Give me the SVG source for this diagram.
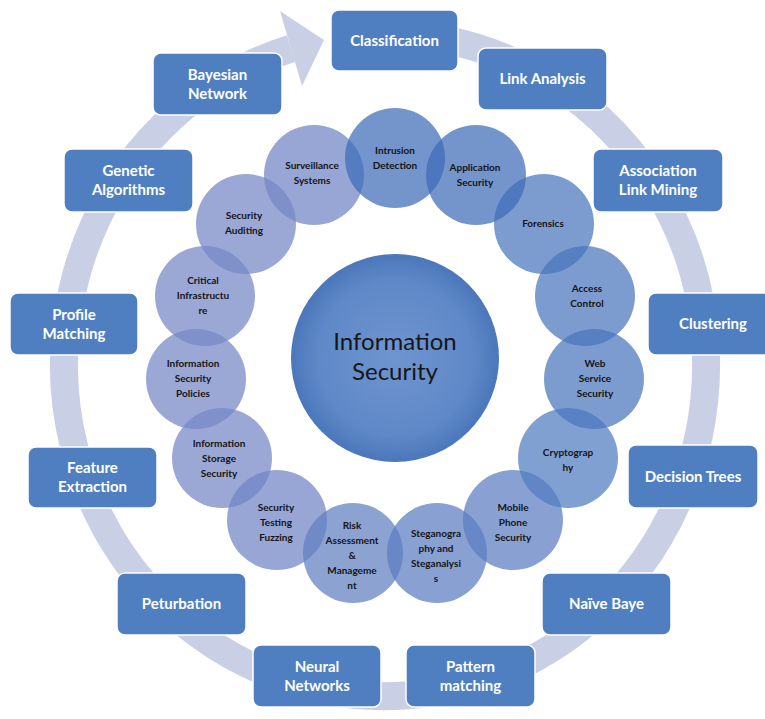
<svg xmlns="http://www.w3.org/2000/svg" width="765" height="719" viewBox="0 0 765 719">
  <defs>
    <radialGradient id="coreFill" cx="50%" cy="50%" r="50%">
      <stop offset="0%" stop-color="#6f95cf"/>
      <stop offset="75%" stop-color="#5e88c7"/>
      <stop offset="100%" stop-color="#4b77bb"/>
    </radialGradient>
    <style>
      .ring { fill: none; stroke: #c9d0e6; stroke-width: 28; }
      .ring-head { fill: #c9d0e6; }
      .box rect { fill: #4f7fc1; stroke: #ffffff; stroke-width: 1.5; }
      .box text { fill: #ffffff; font-family: Lato, "Liberation Sans", sans-serif; font-size: 15px; font-weight: bold; text-anchor: middle; }
      .topic circle { fill-opacity: 0.72; }
      .topic text { fill: #141414; font-family: Lato, "Liberation Sans", sans-serif; font-size: 10px; font-weight: bold; text-anchor: middle; }
      .core text { fill: #161616; font-family: Lato, "Liberation Sans", sans-serif; font-size: 24px; text-anchor: middle; }
    </style>
  </defs>

  <rect width="765" height="719" fill="#ffffff"/>

  <!-- circular arrow band behind the method boxes -->
  <g id="connectors">
    <path class="ring" d="M385,34 A321,331 0 1 1 291.1,48.5"/>
    <polygon class="ring-head" points="280,11 324,40 302,86"/>
  </g>

  <!-- central topic -->
  <g id="core" class="core">
    <circle cx="395" cy="358" r="104" fill="url(#coreFill)"/>
    <text x="395" y="350">Information</text>
    <text x="395" y="380">Security</text>
  </g>

  <!-- ring of security areas -->
  <g id="topic-surveillance" class="topic">
    <circle cx="314" cy="175" r="50" fill="#6f84c4"/>
    <text x="312" y="169">Surveillance</text>
    <text x="312" y="184">Systems</text>
  </g>
  <g id="topic-auditing" class="topic">
    <circle cx="246" cy="224" r="50" fill="#7487c6"/>
    <text x="244" y="219">Security</text>
    <text x="244" y="234">Auditing</text>
  </g>
  <g id="topic-critical" class="topic">
    <circle cx="205" cy="296" r="50" fill="#7487c6"/>
    <text x="203" y="284">Critical</text>
    <text x="203" y="299">Infrastructu</text>
    <text x="203" y="314">re</text>
  </g>
  <g id="topic-policies" class="topic">
    <circle cx="196" cy="379" r="50" fill="#7487c6"/>
    <text x="193" y="367">Information</text>
    <text x="193" y="382">Security</text>
    <text x="193" y="397">Policies</text>
  </g>
  <g id="topic-storage" class="topic">
    <circle cx="222" cy="458" r="50" fill="#7487c6"/>
    <text x="219" y="447">Information</text>
    <text x="219" y="462">Storage</text>
    <text x="219" y="477">Security</text>
  </g>
  <g id="topic-testing" class="topic">
    <circle cx="277" cy="520" r="50" fill="#6f84c4"/>
    <text x="276" y="511">Security</text>
    <text x="276" y="526">Testing</text>
    <text x="276" y="541">Fuzzing</text>
  </g>
  <g id="topic-risk" class="topic">
    <circle cx="353" cy="553" r="50" fill="#5f7fc0"/>
    <text x="352" y="529">Risk</text>
    <text x="352" y="544">Assessment</text>
    <text x="352" y="559">&amp;</text>
    <text x="352" y="574">Manageme</text>
    <text x="352" y="589">nt</text>
  </g>
  <g id="topic-steganography" class="topic">
    <circle cx="437" cy="553" r="50" fill="#5a7dc0"/>
    <text x="436" y="537">Steganogra</text>
    <text x="436" y="552">phy and</text>
    <text x="436" y="567">Steganalysi</text>
    <text x="436" y="582">s</text>
  </g>
  <g id="topic-mobile" class="topic">
    <circle cx="513" cy="520" r="50" fill="#5a7dc0"/>
    <text x="513" y="511">Mobile</text>
    <text x="513" y="526">Phone</text>
    <text x="513" y="541">Security</text>
  </g>
  <g id="topic-crypto" class="topic">
    <circle cx="568" cy="458" r="50" fill="#517bc0"/>
    <text x="568" y="456">Cryptograp</text>
    <text x="568" y="471">hy</text>
  </g>
  <g id="topic-webservice" class="topic">
    <circle cx="594" cy="379" r="50" fill="#4a76be"/>
    <text x="595" y="367">Web</text>
    <text x="595" y="382">Service</text>
    <text x="595" y="397">Security</text>
  </g>
  <g id="topic-access" class="topic">
    <circle cx="585" cy="296" r="50" fill="#4a76be"/>
    <text x="587" y="292">Access</text>
    <text x="587" y="307">Control</text>
  </g>
  <g id="topic-forensics" class="topic">
    <circle cx="544" cy="224" r="50" fill="#4a76be"/>
    <text x="543" y="227">Forensics</text>
  </g>
  <g id="topic-application" class="topic">
    <circle cx="476" cy="175" r="50" fill="#3d6cb9"/>
    <text x="475" y="171">Application</text>
    <text x="475" y="186">Security</text>
  </g>
  <g id="topic-intrusion" class="topic">
    <circle cx="395" cy="158" r="50" fill="#3d6cb9"/>
    <text x="395" y="154">Intrusion</text>
    <text x="395" y="169">Detection</text>
  </g>

  <!-- data mining methods around the band -->
  <g id="m-classification" class="box">
    <rect x="331" y="10" width="127" height="61" rx="8"/>
    <text x="394.5" y="46">Classification</text>
  </g>
  <g id="m-link-analysis" class="box">
    <rect x="478" y="48" width="129" height="62" rx="8"/>
    <text x="542.5" y="84">Link Analysis</text>
  </g>
  <g id="m-association" class="box">
    <rect x="593" y="149" width="130" height="63" rx="8"/>
    <text x="658" y="176">Association</text>
    <text x="658" y="195">Link Mining</text>
  </g>
  <g id="m-clustering" class="box">
    <rect x="648" y="293" width="130" height="62" rx="8"/>
    <text x="713" y="329">Clustering</text>
  </g>
  <g id="m-decision-trees" class="box">
    <rect x="628" y="445" width="130" height="63" rx="8"/>
    <text x="693" y="482">Decision Trees</text>
  </g>
  <g id="m-naive-baye" class="box">
    <rect x="542" y="573" width="129" height="62" rx="8"/>
    <text x="606.5" y="609">Naïve Baye</text>
  </g>
  <g id="m-pattern" class="box">
    <rect x="406" y="645" width="129" height="62" rx="8"/>
    <text x="470.5" y="672">Pattern</text>
    <text x="470.5" y="691">matching</text>
  </g>
  <g id="m-neural" class="box">
    <rect x="253" y="645" width="128" height="62" rx="8"/>
    <text x="317" y="672">Neural</text>
    <text x="317" y="691">Networks</text>
  </g>
  <g id="m-peturbation" class="box">
    <rect x="117" y="573" width="129" height="62" rx="8"/>
    <text x="181.5" y="609">Peturbation</text>
  </g>
  <g id="m-feature" class="box">
    <rect x="28" y="447" width="129" height="61" rx="8"/>
    <text x="92.5" y="473">Feature</text>
    <text x="92.5" y="492">Extraction</text>
  </g>
  <g id="m-profile" class="box">
    <rect x="10" y="293" width="128" height="62" rx="8"/>
    <text x="74" y="320">Profile</text>
    <text x="74" y="339">Matching</text>
  </g>
  <g id="m-genetic" class="box">
    <rect x="64" y="149" width="129" height="63" rx="8"/>
    <text x="128.5" y="176">Genetic</text>
    <text x="128.5" y="195">Algorithms</text>
  </g>
  <g id="m-bayesian" class="box">
    <rect x="153" y="53" width="129" height="62" rx="8"/>
    <text x="217.5" y="80">Bayesian</text>
    <text x="217.5" y="99">Network</text>
  </g>
</svg>
